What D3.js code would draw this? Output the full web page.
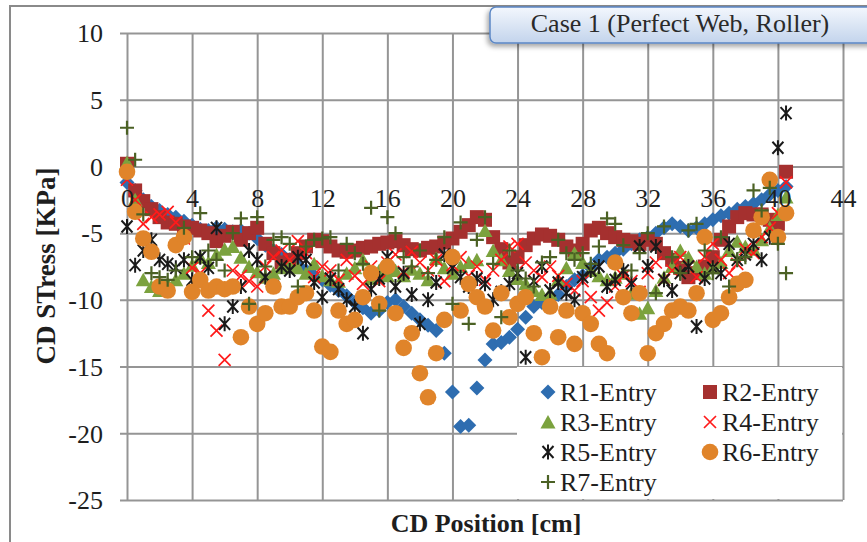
<!DOCTYPE html>
<html lang='en'>
<head>
<meta charset='utf-8'>
<title>Case 1 CD Stress</title>
<script src='https://cdn.jsdelivr.net/npm/d3@7'></script>
<style>
  body { margin: 0; background: #fff; }
  svg { display: block; }
</style>
</head>
<body>
<script>
// CD positions (cm), shared by all series
const positions = [0,0.5,1,1.5,2,2.5,3,3.5,4,4.5,5,5.5,6,6.5,7,7.5,8,8.5,9,9.5,
  10,10.5,11,11.5,12,12.5,13,13.5,14,14.5,15,15.5,16,16.5,17,17.5,18,18.5,19,19.5,
  20,20.5,21,21.5,22,22.5,23,23.5,24,24.5,25,25.5,26,26.5,27,27.5,28,28.5,29,29.5,
  30,30.5,31,31.5,32,32.5,33,33.5,34,34.5,35,35.5,36,36.5,37,37.5,38,38.5,39,39.5,
  40,40.5];

const r1 = [-1.2,-1.8,-2.5,-3.0,-3.3,-3.6,-3.8,-4.1,-4.4,-4.7,
  -4.8,-4.6,-4.7,-4.9,-4.8,-5.0,-5.4,-5.9,-6.3,-6.6,
  -7.0,-7.4,-7.8,-8.2,-8.5,-8.9,-9.3,-9.7,-10.2,-10.6,
  -11.0,-10.8,-10.2,-10.0,-10.5,-11.0,-11.5,-11.9,-12.3,-14.0,
  -16.9,-19.5,-19.4,-16.6,-14.5,-13.3,-13.2,-12.8,-12.2,-11.3,
  -10.5,-10.2,-10.0,-9.6,-9.0,-8.5,-8.2,-7.6,-7.0,-6.8,
  -6.5,-6.2,-5.8,-5.5,-5.3,-5.0,-4.6,-4.3,-4.5,-4.8,
  -4.6,-4.3,-4.0,-3.7,-3.5,-3.2,-3.0,-2.8,-2.5,-2.1,
  -1.8,-1.5];
const r2 = [0.2,-1.8,-2.6,-3.2,-3.8,-4.2,-4.3,-4.5,-4.6,-4.8,
  -5.0,-5.6,-5.2,-4.9,-5.5,-5.0,-4.6,-5.8,-6.5,-7.2,
  -7.0,-6.5,-6.0,-5.5,-5.6,-6.0,-6.3,-6.4,-6.3,-6.1,
  -6.0,-5.8,-5.7,-5.6,-5.9,-6.2,-6.3,-6.1,-6.0,-5.7,
  -5.4,-4.9,-4.4,-3.8,-4.0,-5.3,-6.2,-7.2,-6.8,-5.9,
  -5.4,-5.1,-5.2,-5.5,-6.0,-6.3,-5.8,-4.8,-4.6,-5.0,
  -5.3,-5.5,-5.6,-5.8,-5.5,-5.8,-6.5,-7.0,-7.6,-8.3,
  -8.0,-7.5,-6.8,-5.5,-4.5,-3.8,-3.5,-3.6,-3.6,-4.0,
  -4.3,-0.4];
const r3 = [0.3,-2.5,-8.5,-9.0,-9.3,-8.8,-8.5,-8.0,-7.4,-6.8,
  -7.2,-6.6,-6.2,-6.0,-6.8,-7.5,-7.9,-8.3,-8.0,-7.6,
  -7.4,-7.6,-8.0,-7.3,-8.2,-8.5,-8.6,-8.0,-7.6,-7.0,
  -8.4,-7.8,-8.2,-7.8,-8.2,-7.7,-8.0,-8.5,-6.9,-7.6,
  -8.0,-7.5,-7.2,-7.0,-4.8,-6.3,-7.0,-7.8,-8.4,-8.8,
  -9.3,-9.6,-9.5,-8.5,-7.6,-6.5,-7.2,-7.8,-8.2,-8.5,
  -8.3,-8.0,-9.5,-11.0,-10.6,-9.3,-8.3,-7.5,-6.3,-6.8,
  -7.5,-8.0,-7.6,-7.2,-6.3,-5.6,-6.0,-6.2,-5.5,-4.6,
  -3.6,-2.3];
const r4 = [-1.0,-2.5,-4.3,-3.8,-3.6,-3.4,-4.2,-5.4,-7.6,-8.0,
  -10.8,-12.3,-14.5,-7.8,-8.2,-8.6,-9.0,-7.5,-6.8,-6.3,
  -7.0,-5.6,-6.5,-8.3,-7.5,-7.8,-8.5,-7.0,-8.2,-8.8,
  -7.5,-8.6,-7.2,-6.6,-7.9,-6.4,-7.2,-7.8,-7.0,-8.6,
  -7.4,-6.8,-8.2,-7.5,-8.5,-7.8,-7.0,-6.0,-5.8,-7.2,
  -7.8,-8.3,-7.5,-8.2,-8.8,-9.3,-8.6,-9.8,-10.8,-10.2,
  -9.0,-8.2,-8.6,-9.4,-8.0,-7.2,-8.5,-7.8,-6.8,-7.5,
  -8.3,-6.8,-5.8,-7.0,-8.0,-7.3,-6.2,-6.5,-5.3,-4.6,
  -3.5,-1.2];
const r5 = [-4.5,-7.4,-6.3,-5.5,-7.0,-7.3,-7.6,-7.0,-8.5,-6.8,
  -7.6,-4.6,-11.8,-10.5,-9.0,-6.3,-7.0,-8.3,-9.0,-7.5,
  -7.8,-6.8,-7.0,-8.7,-9.8,-8.4,-9.2,-10.0,-10.5,-12.5,
  -9.2,-8.4,-6.8,-9.0,-8.0,-9.6,-11.8,-10.0,-8.7,-6.6,
  -7.6,-8.3,-9.0,-8.4,-8.8,-10.0,-9.4,-8.8,-8.0,-14.3,
  -8.6,-7.5,-9.3,-8.7,-9.5,-10.0,-8.3,-7.8,-7.5,-9.0,
  -8.5,-7.8,-8.8,-6.0,-7.5,-6.0,-8.5,-9.3,-8.0,-7.5,
  -12.0,-8.4,-7.6,-8.0,-5.8,-7.0,-6.6,-5.8,-7.0,-5.3,
  1.4,4.0];
const r6 = [-0.4,-3.4,-5.4,-6.4,-9.0,-9.3,-5.9,-5.3,-9.4,-8.5,
  -9.3,-9.0,-9.2,-9.0,-12.8,-10.5,-11.8,-11.0,-9.0,-10.5,
  -10.5,-9.8,-9.5,-10.8,-13.5,-13.9,-10.8,-11.8,-11.5,-9.8,
  -8.0,-10.3,-7.5,-11.0,-13.6,-12.5,-15.5,-17.3,-14.0,-11.5,
  -6.8,-10.8,-8.8,-9.8,-10.5,-12.3,-9.5,-11.3,-10.3,-9.8,
  -12.5,-14.3,-10.5,-12.8,-10.8,-13.3,-11.0,-11.8,-13.3,-14.0,
  -7.2,-9.8,-11.0,-9.5,-14.0,-12.5,-11.8,-10.8,-10.5,-10.8,
  -9.5,-5.3,-11.5,-11.0,-9.8,-8.8,-8.5,-4.8,-3.8,-1.0,
  -5.3,-3.5];
const r7 = [2.9,0.5,-3.6,-8.0,-8.3,-8.5,-7.8,-4.6,-6.8,-3.5,
  -6.3,-7.0,-7.8,-5.0,-3.9,-10.3,-3.8,-7.5,-5.5,-5.3,
  -5.8,-9.0,-6.0,-5.5,-5.4,-5.3,-7.8,-5.8,-6.5,-7.3,
  -3.1,-10.8,-3.8,-5.0,-6.8,-7.5,-6.3,-8.0,-7.0,-5.3,
  -10.3,-4.2,-11.8,-5.5,-3.8,-7.3,-11.3,-6.3,-7.8,-8.4,
  -9.0,-7.2,-6.8,-5.5,-6.5,-7.0,-6.5,-7.3,-6.0,-3.9,
  -4.3,-5.9,-7.8,-6.5,-5.0,-9.5,-4.5,-6.8,-8.0,-4.8,
  -4.3,-6.3,-8.0,-5.3,-9.0,-7.0,-6.8,-1.8,-3.3,-1.6,
  -5.8,-8.0];

const seriesNames = ['R1-Entry','R2-Entry','R3-Entry','R4-Entry','R5-Entry','R6-Entry','R7-Entry'];
const xTicks = [0,4,8,12,16,20,24,28,32,36,40,44];
const yTicks = [10,5,0,-5,-10,-15,-20,-25];
const titleText = 'Case 1 (Perfect Web, Roller)';

const W = 867, H = 542;
const serif = "'Liberation Serif','Times New Roman',serif";
const gridColor = '#959595';

// marker shapes (path strings around 0,0)
const shapes = {
  diamond: 'M0,-7.5L7.5,0L0,7.5L-7.5,0Z',
  square: 'M-7,-7H7V7H-7Z',
  triangle: 'M0,-7L7.5,6.5L-7.5,6.5Z',
  cross: 'M-6,-6L6,6M6,-6L-6,6',
  star: 'M-5.5,-6L5.5,6M5.5,-6L-5.5,6M0,-7.5V7.5',
  circle: d3.symbol(d3.symbolCircle, Math.PI * 8.3 * 8.3)(),
  plus: 'M-7,0H7M0,-7V7'
};
const styles = [
  {shape: 'diamond', fill: '#2E6DB0', stroke: 'none', sw: 0},
  {shape: 'square', fill: '#A5302F', stroke: 'none', sw: 0},
  {shape: 'triangle', fill: '#7BA23E', stroke: 'none', sw: 0},
  {shape: 'cross', fill: 'none', stroke: '#FF1A1A', sw: 1.7},
  {shape: 'star', fill: 'none', stroke: '#1A1A1A', sw: 2},
  {shape: 'circle', fill: '#E0842A', stroke: 'none', sw: 0},
  {shape: 'plus', fill: 'none', stroke: '#4B6124', sw: 2.2}
];
const values = [r1, r2, r3, r4, r5, r6, r7];
const series = seriesNames.map((name, i) => ({
  name: name, style: styles[i],
  points: positions.map((p, j) => ({x: p, y: values[i][j]}))
}));

const svg = d3.select('body').append('svg').attr('width', W).attr('height', H);

const defs = svg.append('defs');
const grad = defs.append('linearGradient').attr('id', 'tbg').attr('x1', 0).attr('y1', 0).attr('x2', 0).attr('y2', 1);
grad.append('stop').attr('offset', '0%').attr('stop-color', '#F3F7FD');
grad.append('stop').attr('offset', '100%').attr('stop-color', '#C3D4EC');
const shadow = defs.append('filter').attr('id', 'shd').attr('x', '-10%').attr('y', '-30%').attr('width', '130%').attr('height', '190%');
shadow.append('feDropShadow').attr('dx', -2).attr('dy', 3).attr('stdDeviation', 2.5).attr('flood-color', '#000').attr('flood-opacity', 0.35);

// outer chart border
svg.append('rect').attr('x', 10).attr('y', 6).attr('width', 900).attr('height', 600)
  .attr('fill', 'none').attr('stroke', '#8a8a8a').attr('stroke-width', 2);

const x = d3.scaleLinear().domain([0, 44]).range([127, 843]);
const y = d3.scaleLinear().domain([-25, 10]).range([500, 33]);
const plain = d => String(d);   // hyphen minus like the original

// horizontal grid + y labels
const yAxis = svg.append('g').attr('transform', 'translate(' + x(0) + ',0)')
  .call(d3.axisLeft(y).tickValues(yTicks).tickFormat(plain).tickSize(-(x(44) - x(0))).tickSizeOuter(0));
yAxis.select('.domain').remove();
yAxis.selectAll('line').attr('x1', -7).attr('stroke', gridColor).attr('stroke-width', 2);
yAxis.selectAll('text').attr('x', -24).attr('dy', '0.34em')
  .attr('font-family', serif).attr('font-size', 26).attr('fill', '#1e1e1e');

// vertical grid
const xGrid = svg.append('g').attr('transform', 'translate(0,' + y(-25) + ')')
  .call(d3.axisBottom(x).tickValues(xTicks).tickSize(-(y(-25) - y(10))).tickSizeOuter(0).tickFormat(''));
xGrid.select('.domain').remove();
xGrid.selectAll('line').attr('stroke', gridColor).attr('stroke-width', 2);

// markers
const plot = svg.append('g');
series.forEach(s => {
  plot.append('g').selectAll('path').data(s.points).enter().append('path')
    .attr('transform', d => 'translate(' + x(d.x) + ',' + y(d.y) + ')')
    .attr('d', shapes[s.style.shape])
    .attr('fill', s.style.fill).attr('stroke', s.style.stroke).attr('stroke-width', s.style.sw);
});

// x labels along zero line
const xAxis = svg.append('g').attr('transform', 'translate(0,' + y(0) + ')')
  .call(d3.axisBottom(x).tickValues(xTicks).tickFormat(plain).tickSize(0).tickSizeOuter(0));
xAxis.select('.domain').remove();
xAxis.selectAll('text').attr('y', 41).attr('dy', 0)
  .attr('font-family', serif).attr('font-size', 26).attr('fill', '#1e1e1e');

// axis titles
svg.append('text').attr('x', 486).attr('y', 532).attr('text-anchor', 'middle')
  .attr('font-family', serif).attr('font-weight', 'bold').attr('font-size', 26).attr('fill', '#1e1e1e')
  .text('CD Position [cm]');
svg.append('text').attr('transform', 'translate(55,' + 266 + ') rotate(-90)').attr('text-anchor', 'middle')
  .attr('font-family', serif).attr('font-weight', 'bold').attr('font-size', 27).attr('fill', '#1e1e1e')
  .text('CD STress [KPa]');

// legend
const legend = svg.append('g');
legend.append('rect').attr('x', 517).attr('y', 367).attr('width', 325).attr('height', 132).attr('fill', '#fff');
series.forEach((s, i) => {
  const col = i % 2, row = Math.floor(i / 2);
  const mx = 548 + col * 162, my = 392 + row * 30;
  legend.append('path').attr('transform', 'translate(' + mx + ',' + my + ')')
    .attr('d', shapes[s.style.shape])
    .attr('fill', s.style.fill).attr('stroke', s.style.stroke).attr('stroke-width', s.style.sw);
  legend.append('text').attr('x', mx + 12).attr('y', my + 9)
    .attr('font-family', serif).attr('font-size', 26).attr('fill', '#1e1e1e').text(s.name);
});

// title box
svg.append('rect').attr('x', 490).attr('y', 7).attr('width', 400).attr('height', 36).attr('rx', 6)
  .attr('fill', 'url(#tbg)').attr('stroke', '#5B87C5').attr('stroke-width', 1.5).attr('filter', 'url(#shd)');
svg.append('text').attr('x', 680).attr('y', 32).attr('text-anchor', 'middle')
  .attr('font-family', serif).attr('font-size', 26).attr('fill', '#2a2a2a').text(titleText);
</script>
</body>
</html>
